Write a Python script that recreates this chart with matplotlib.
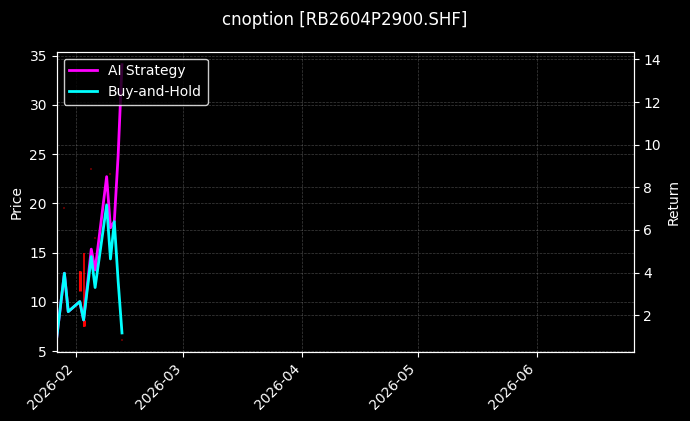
import numpy as np
import pandas as pd
import matplotlib
matplotlib.use("Agg")
import matplotlib.pyplot as plt
import matplotlib.dates as mdates

# returns (right axis)
ret_dates = pd.to_datetime(["2026-01-27", "2026-01-29", "2026-01-30", "2026-02-02", "2026-02-03",
                            "2026-02-05", "2026-02-06", "2026-02-09", "2026-02-10", "2026-02-11",
                            "2026-02-12", "2026-02-13"])
ai_strategy = [0.95, 3.97, 2.17, 2.64, 1.78, 5.1, 4.12, 8.5, 6.1, 6.4, 9.5, 13.75]
buy_hold = [0.95, 3.97, 2.17, 2.64, 1.78, 4.75, 3.30, 7.17, 4.64, 6.39, 3.6, 1.17]

# candles (left axis)
candle_dates = pd.to_datetime(["2026-01-29", "2026-02-02", "2026-02-03", "2026-02-05",
                               "2026-02-06", "2026-02-10", "2026-02-13"])
c_open = [19.5, 13.1, 8.2, 23.5, 16.5, 23.0, 6.1]
c_high = [19.5, 13.1, 15.0, 23.5, 16.5, 23.0, 6.1]
c_low = [19.5, 11.1, 7.5, 23.5, 16.5, 23.0, 6.1]
c_close = [19.5, 11.1, 7.6, 23.5, 16.5, 23.0, 6.1]

plt.style.use("dark_background")
fig, ax = plt.subplots(figsize=(6.9, 4.21), dpi=100)
fig.subplots_adjust(left=0.0822, right=0.9184, bottom=0.1646, top=0.8772)

# candlesticks
for d, o, h, l, c in zip(candle_dates, c_open, c_high, c_low, c_close):
    if h - l < 0.01:
        ax.plot([d], [c], marker="s", ms=1.5, color="#5a0000", mew=0)
    else:
        ax.vlines(d, l, h, color="red", lw=1.2)
        ax.vlines(d, min(o, c), max(o, c), color="red", lw=2.2)

ax.set_ylabel("Price")
ax.set_ylim(4.95, 35.4)
ax.grid(True, linestyle="--", color="gray", alpha=0.5, lw=0.5)

ax2 = ax.twinx()
l1, = ax2.plot(ret_dates, ai_strategy, color="magenta", lw=2, label="AI Strategy")
l2, = ax2.plot(ret_dates, buy_hold, color="cyan", lw=2, label="Buy-and-Hold")
ax2.set_ylabel("Return")
ax2.set_ylim(0.29, 14.36)
ax2.grid(True, linestyle="--", color="gray", alpha=0.5, lw=0.5)

ax.set_xlim(pd.Timestamp("2026-01-27"), pd.Timestamp("2026-06-26 07:00"))
ax.xaxis.set_major_locator(mdates.MonthLocator())
ax.xaxis.set_major_formatter(mdates.DateFormatter("%Y-%m"))
plt.setp(ax.get_xticklabels(), rotation=45, ha="right")

leg = ax2.legend(handles=[l1, l2], loc="upper left", facecolor="black", edgecolor="white", framealpha=0.8)
fig.suptitle("cnoption [RB2604P2900.SHF]", y=0.975)

fig.savefig("out.png", dpi=100)
